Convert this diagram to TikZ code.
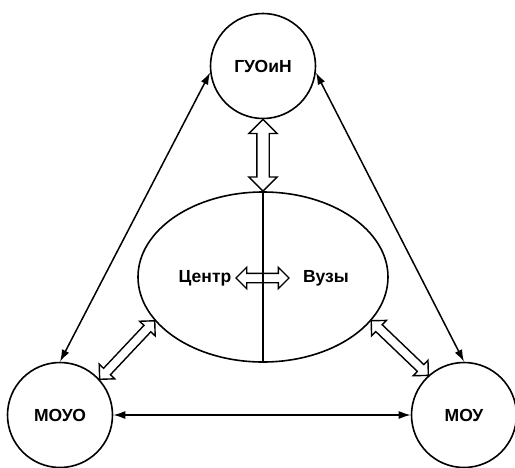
\documentclass[tikz,border=0pt]{standalone}
\usepackage{fontspec}
\setmainfont{Liberation Sans}
\usetikzlibrary{shapes.geometric,shapes.arrows,arrows.meta,calc}
\begin{document}
\begin{tikzpicture}[x=1pt,y=-1pt,
  circ/.style={circle,draw,line width=1.6pt,minimum size=105pt,inner sep=0pt},
  lbl/.style={font=\bfseries\fontsize{17.5}{20}\selectfont},
  thin/.style={line width=1.5pt,{Latex[length=12pt,width=8pt]}-{Latex[length=12pt,width=8pt]}},
  hollow/.style={double arrow,draw,line width=1.4pt,inner xsep=0pt,inner ysep=4pt,
    double arrow head extend=6pt,double arrow head indent=0pt},
  bighollow/.style={inner ysep=5.5pt,double arrow head extend=8pt}]
\useasboundingbox (0,0) rectangle (515,467);
\node[circ,lbl] (top) at (263,66) {ГУОиН};
\node[circ,lbl] (moyo) at (60,415) {МОУО};
\node[circ,lbl] (moy) at (464,415) {МОУ};
\node[ellipse,draw,line width=1.6pt,minimum width=250pt,minimum height=170pt,inner sep=0pt] (ell) at (263,277) {};
\draw[line width=1.5pt] (ell.north) -- (ell.south);
\node[lbl] (centr) at (205,278) {Центр};
\node[lbl] (vuzy) at (326,278) {Вузы};
\coordinate (hl) at (236,278);
\coordinate (hr) at (289,278);
\newcommand\hollowarrow[3][]{%
  \path let \p1=($(#3)-(#2)$), \n1={veclen(\x1,\y1)}, \n2={atan2(\y1,\x1)} in
    node[hollow,#1,minimum height=\n1,rotate=\n2] at ($(#2)!0.5!(#3)$) {};}
\hollowarrow[bighollow]{top.south}{ell.north}
\hollowarrow{hl}{hr}
\hollowarrow{moyo.42}{ell.202}
\hollowarrow{ell.338}{moy.132}
\draw[thin] (top.187) -- (moyo.north);
\draw[thin] (top.353) -- (moy.north);
\draw[thin] (moyo.east) -- (moy.west);
\end{tikzpicture}
\end{document}
